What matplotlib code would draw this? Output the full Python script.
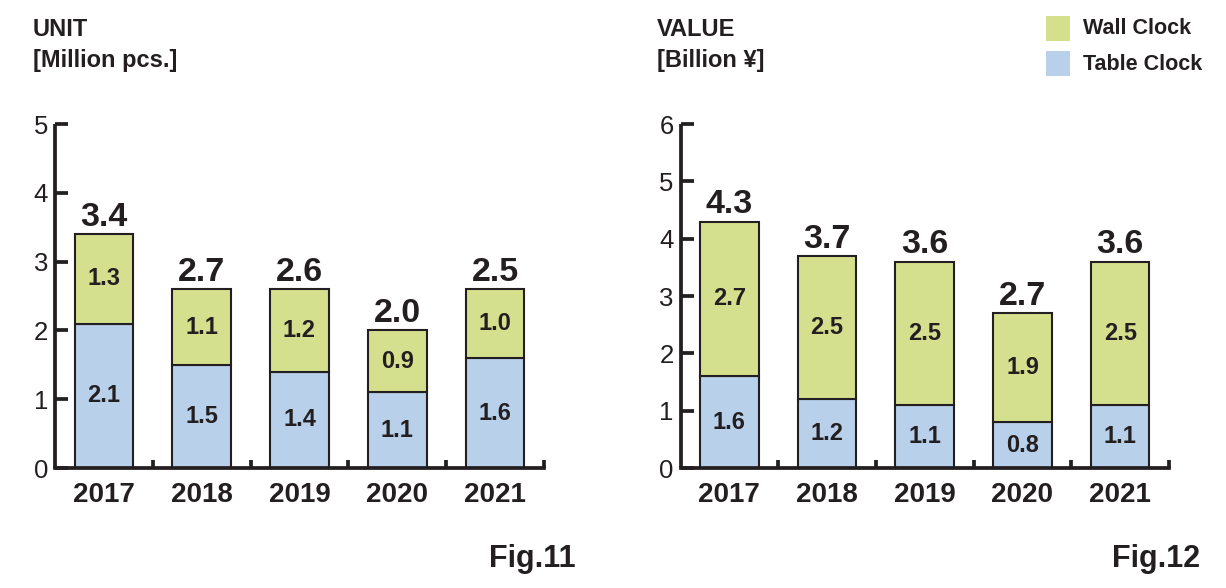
import matplotlib.pyplot as plt
from matplotlib.patches import Rectangle

years = ["2017", "2018", "2019", "2020", "2021"]

# Fig.11 unit [Million pcs.]
unit_table = [2.1, 1.5, 1.4, 1.1, 1.6]
unit_wall = [1.3, 1.1, 1.2, 0.9, 1.0]
unit_total = ["3.4", "2.7", "2.6", "2.0", "2.5"]

# Fig.12 value [Billion yen]
value_table = [1.6, 1.2, 1.1, 0.8, 1.1]
value_wall = [2.7, 2.5, 2.5, 1.9, 2.5]
value_total = ["4.3", "3.7", "3.6", "2.7", "3.6"]

green = "#d5e08f"
blue = "#b9d0eb"
ink = "#231f20"

plt.rcParams["font.family"] = ["Liberation Sans", "DejaVu Sans"]

fig = plt.figure(figsize=(12.26, 5.88), dpi=100)


def draw(ax, table, wall, totals, ymax):
    x = range(len(years))
    ax.bar(x, table, width=0.6, color=blue, edgecolor=ink, linewidth=1.5)
    ax.bar(x, wall, width=0.6, bottom=table, color=green, edgecolor=ink, linewidth=1.5)
    for i in x:
        ax.text(i, table[i] / 2, "%.1f" % table[i], ha="center", va="center",
                fontsize=17, fontweight="bold", color=ink)
        ax.text(i, table[i] + wall[i] / 2, "%.1f" % wall[i], ha="center", va="center",
                fontsize=17, fontweight="bold", color=ink)
        ax.annotate(totals[i], (i, table[i] + wall[i]), xytext=(0, 1),
                    textcoords="offset points", ha="center", va="bottom",
                    fontsize=24.5, fontweight="bold", color=ink)
    ax.set_xlim(-0.5, 4.5)
    ax.set_ylim(0, ymax)
    for s in ["top", "right"]:
        ax.spines[s].set_visible(False)
    for s in ["left", "bottom"]:
        ax.spines[s].set_linewidth(2.7)
        ax.spines[s].set_color(ink)
    ax.set_yticks(range(ymax + 1))
    ax.tick_params(axis="y", direction="in", length=9.5, width=2.7, labelsize=18.5,
                   colors=ink, pad=5)
    ax.set_xticks(list(x))
    ax.set_xticklabels(years, fontsize=20, fontweight="bold", color=ink)
    ax.tick_params(axis="x", length=0, pad=10)
    ax.set_xticks([0.5, 1.5, 2.5, 3.5, 4.5], minor=True)
    ax.tick_params(axis="x", which="minor", direction="in", length=6, width=2.7,
                   colors=ink)
    ax.spines["left"].set_capstyle("butt")


ax1 = fig.add_axes([55 / 1226, 0.204, 489 / 1226, 0.585])
draw(ax1, unit_table, unit_wall, unit_total, 5)
ax2 = fig.add_axes([680.5 / 1226, 0.204, 488.5 / 1226, 0.585])
draw(ax2, value_table, value_wall, value_total, 6)

fig.text(33 / 1226, 1 - 29 / 588, "UNIT", fontsize=17, fontweight="bold",
         color=ink, va="center")
fig.text(33 / 1226, 1 - 61 / 588, "[Million pcs.]", fontsize=17, fontweight="bold",
         color=ink, va="center")
fig.text(657 / 1226, 1 - 29 / 588, "VALUE", fontsize=17, fontweight="bold",
         color=ink, va="center")
fig.text(657 / 1226, 1 - 61 / 588, "[Billion ¥]", fontsize=17, fontweight="bold",
         color=ink, va="center")

fig.text(576 / 1226, 1 - 559 / 588, "Fig.11", fontsize=22, fontweight="bold",
         color=ink, ha="right", va="center")
fig.text(1200 / 1226, 1 - 559 / 588, "Fig.12", fontsize=22, fontweight="bold",
         color=ink, ha="right", va="center")

# legend
for j, (c, lab) in enumerate([(green, "Wall Clock"), (blue, "Table Clock")]):
    yc = 28 + j * 35.5
    fig.patches.append(Rectangle((1046 / 1226, 1 - (yc + 12.5) / 588), 24 / 1226, 25 / 588,
                                 transform=fig.transFigure, facecolor=c, edgecolor="none"))
    fig.text(1083 / 1226, 1 - (yc + 1) / 588, lab, fontsize=15.5, fontweight="bold",
             color=ink, va="center")

fig.savefig("out.png", dpi=100, facecolor="white")
